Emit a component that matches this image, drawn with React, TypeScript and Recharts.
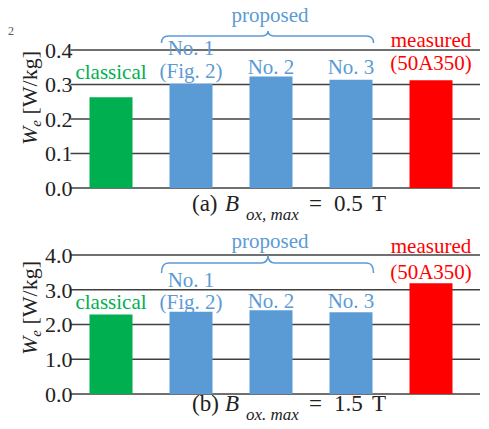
import React from 'react';
import { BarChart, Bar, XAxis, YAxis, CartesianGrid, Cell, LabelList } from 'recharts';

const categories = ['classical', 'No. 1', 'No. 2', 'No. 3', 'measured'];
const lossA = [0.263, 0.302, 0.323, 0.314, 0.312]; // (a) B = 0.5 T
const lossB = [2.29, 2.37, 2.41, 2.35, 3.19]; // (b) B = 1.5 T
const ticksA = [0, 0.1, 0.2, 0.3, 0.4];
const ticksB = [0, 1, 2, 3, 4];
const labelText = [['classical'], ['No. 1', '(Fig. 2)'], ['No. 2'], ['No. 3'], ['measured', '(50A350)']];

const GREEN = '#00B050';
const BLUE = '#5B9BD5';
const RED = '#FF0000';
const barColors = [GREEN, BLUE, BLUE, BLUE, RED];
const FONT = '"Liberation Serif", "Times New Roman", serif';

// text baselines inside each panel (px from panel top)
const baselinesA = [[79], [55, 78], [74], [74], [47, 70]];
const baselinesB = [[104], [82, 104], [103], [103], [48, 74]];
const braceA = { line: 36, end: 43, peak: 31, text: 22 };
const braceB = { line: 58, end: 68, peak: 50, text: 43 };

const rowsOf = (values: number[]) => categories.map((name, i) => ({ name, value: values[i] }));

interface PanelProps {
  values: number[];
  ticks: number[];
  max: number;
  baselines: number[][];
  brace: { line: number; end: number; peak: number; text: number };
  top: number;
  bottom: number;
}

const Panel: React.FC<PanelProps> = ({ values, ticks, max, baselines, brace, top, bottom }) => {
  const rows = rowsOf(values);

  const renderText = (props: any) => {
    const { x, width, value } = props;
    const i = categories.indexOf(value);
    if (i < 0) return null;
    const cx = Number(x) + Number(width) / 2;
    return (
      <g>
        {labelText[i].map((t, k) => (
          <text key={k} x={cx} y={baselines[i][k]} textAnchor="middle" fill={barColors[i]} fontSize={21} fontFamily={FONT}>
            {t}
          </text>
        ))}
      </g>
    );
  };

  const renderBrace = (props: any) => {
    const { x, width, value } = props;
    if (value !== 'No. 2') return null;
    const bx = Number(x);
    const bw = Number(width);
    const mid = bx + bw / 2 - 3;
    const L = bx - 88;
    const R = bx + bw + 81;
    const { line, end, peak, text } = brace;
    const d = `M${L},${end} Q${L},${line} ${L + 7},${line} L${mid - 7},${line} Q${mid},${line} ${mid},${peak} Q${mid},${line} ${mid + 7},${line} L${R - 7},${line} Q${R},${line} ${R},${end}`;
    return (
      <g>
        <path d={d} fill="none" stroke={BLUE} strokeWidth={1.5} />
        <text x={mid + 2} y={text} textAnchor="middle" fill={BLUE} fontSize={21} fontFamily={FONT}>
          proposed
        </text>
      </g>
    );
  };

  return (
    <div style={{ position: 'absolute', left: 0, top }}>
      <BarChart width={489} height={215} data={rows} margin={{ top: 50, right: 9, bottom, left: 0 }}>
        <CartesianGrid vertical={false} stroke="#404040" strokeWidth={1.6} />
        <XAxis dataKey="name" hide padding={{ left: 0, right: 9.5 }} />
        <YAxis
          domain={[0, max]}
          ticks={ticks}
          interval={0}
          width={70.5}
          axisLine={false}
          tickLine={false}
          tickSize={0}
          tickMargin={-2}
          tick={{ fill: '#222', fontSize: 22, fontFamily: FONT }}
          tickFormatter={(v: number) => v.toFixed(1)}
        />
        <Bar dataKey="value" barSize={43} isAnimationActive={false}>
          {rows.map((r, i) => (
            <Cell key={r.name} fill={barColors[i]} />
          ))}
          <LabelList dataKey="name" content={renderText} />
          <LabelList dataKey="name" content={renderBrace} />
        </Bar>
      </BarChart>
    </div>
  );
};

const YLabel = ({ y }: { y: number }) => (
  <text transform={`translate(37,${y}) rotate(-90)`} textAnchor="middle" fontSize={22} fontFamily={FONT} fill="#222">
    <tspan fontStyle="italic">W</tspan>
    <tspan fontStyle="italic" fontSize={15} dy={4}>e</tspan>
    <tspan dy={-4}> [W/kg]</tspan>
  </text>
);

// caption parts placed at the x positions
const Caption = ({ y, tag, sub, val, unit }: { y: number; tag: string; sub: string; val: string; unit: string }) => (
  <text y={y} fontSize={23} fontFamily={FONT} fill="#222">
    <tspan x={192}>{tag}</tspan>
    <tspan x={225} fontStyle="italic">B</tspan>
    <tspan x={246} fontStyle="italic" fontSize={17} dy={9}>{sub}</tspan>
    <tspan x={309} dy={-9}>=</tspan>
    <tspan x={334}>{val}</tspan>
    <tspan x={372}>{unit}</tspan>
  </text>
);

export default function App() {
  return (
    <div style={{ position: 'absolute', left: 0, top: 0, width: 489, height: 429, background: '#fff', overflow: 'hidden' }}>
      <Panel values={lossA} ticks={ticksA} max={0.4} baselines={baselinesA} brace={braceA} top={0} bottom={27} />
      <Panel values={lossB} ticks={ticksB} max={4} baselines={baselinesB} brace={braceB} top={205} bottom={26} />
      <svg width={489} height={429} style={{ position: 'absolute', left: 0, top: 0, pointerEvents: 'none' }}>
        <text x={8} y={35} fontSize={12} fontFamily={FONT} fill="#555">2</text>
        <YLabel y={98} />
        <YLabel y={308} />
        <Caption y={211} tag="(a)" sub="ox, max" val="0.5" unit="T" />
        <Caption y={411} tag="(b)" sub="ox. max" val="1.5" unit="T" />
      </svg>
    </div>
  );
}
